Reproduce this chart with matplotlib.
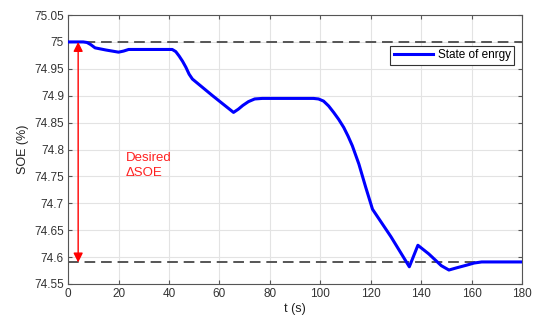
import matplotlib
matplotlib.use("Agg")
import matplotlib.pyplot as plt

plt.rcParams['font.family'] = ['Liberation Sans', 'DejaVu Sans']

t = [0, 6, 7.5, 9, 10.7, 15, 20, 22, 24, 30, 41.3, 42.7, 44, 45.4, 46.7, 48, 49.3,
     57.3, 65.6, 67.5, 69.3, 71.5, 74, 77, 80,
     97.3, 99.3, 101.3, 103.3, 105.3, 107.3, 109.3, 111, 112.7, 115.3, 118, 120.7,
     128, 135.3, 138.7, 143, 148, 151, 154, 158, 161, 164, 170, 180]
soe = [75.0, 75.0, 74.999, 74.995, 74.989, 74.985, 74.981, 74.983, 74.986, 74.986,
       74.986, 74.982, 74.974, 74.964, 74.953, 74.940, 74.931,
       74.900, 74.869, 74.875, 74.882, 74.889, 74.894, 74.895, 74.895,
       74.895, 74.894, 74.890, 74.881, 74.869, 74.856, 74.841, 74.825, 74.807,
       74.773, 74.730, 74.689, 74.638, 74.582, 74.622, 74.606, 74.584, 74.576,
       74.580, 74.585, 74.589, 74.591, 74.591, 74.591]

ref_upper = 75.0
ref_lower = 74.59
xticks = [0, 20, 40, 60, 80, 100, 120, 140, 160, 180]
yticks = [74.55, 74.6, 74.65, 74.7, 74.75, 74.8, 74.85, 74.9, 74.95, 75.0, 75.05]
ytick_labels = ['74.55', '74.6', '74.65', '74.7', '74.75', '74.8', '74.85', '74.9', '74.95', '75', '75.05']
legend_label = 'State of enrgy'
annot_text = 'Desired\n\u0394SOE'

fig = plt.figure(figsize=(5.36, 3.2), dpi=100)
ax = fig.add_axes([0.127, 0.1125, 0.847, 0.8405])

axc = '#555555'
ax.grid(True, color='#e3e3e3', linewidth=0.8)
ax.set_axisbelow(True)

ax.axhline(ref_upper, color='#555555', lw=1.4, dashes=(5.5, 3), zorder=2)
ax.axhline(ref_lower, color='#555555', lw=1.4, dashes=(5.5, 3), zorder=2)
ax.plot(t, soe, color='#0000ff', lw=2.2, label=legend_label, zorder=3,
        solid_joinstyle='round')

ax.annotate('', xy=(4, ref_upper), xytext=(4, ref_lower),
            arrowprops=dict(arrowstyle='<|-|>', color='#ff0000', lw=1.0,
                            mutation_scale=14, shrinkA=0, shrinkB=0), zorder=4)
ax.text(23, 74.77, annot_text, color='#ff2020', fontsize=9.5, ha='left', va='center',
        linespacing=1.3)

ax.set_xlim(0, 180)
ax.set_ylim(74.55, 75.05)
ax.set_xticks(xticks)
ax.set_yticks(yticks)
ax.set_yticklabels(ytick_labels)
ax.tick_params(direction='in', length=3, width=0.8, colors=axc, labelcolor='#333333',
               labelsize=8.5, top=True, right=True, pad=3)
for s in ax.spines.values():
    s.set_color(axc)
    s.set_linewidth(0.8)

ax.set_xlabel('t (s)', fontsize=9, color='#222222', labelpad=2)
ax.set_ylabel('SOE (%)', fontsize=9, color='#222222', labelpad=4)

leg = ax.legend(loc='upper right', bbox_to_anchor=(0.988, 0.895), fontsize=8.5,
                handlelength=3.3, fancybox=False, framealpha=1, borderpad=0.3,
                handletextpad=0.4, borderaxespad=0.2)
leg.get_frame().set_edgecolor('#333333')
leg.get_frame().set_linewidth(0.8)

fig.savefig('out.png', dpi=100)
